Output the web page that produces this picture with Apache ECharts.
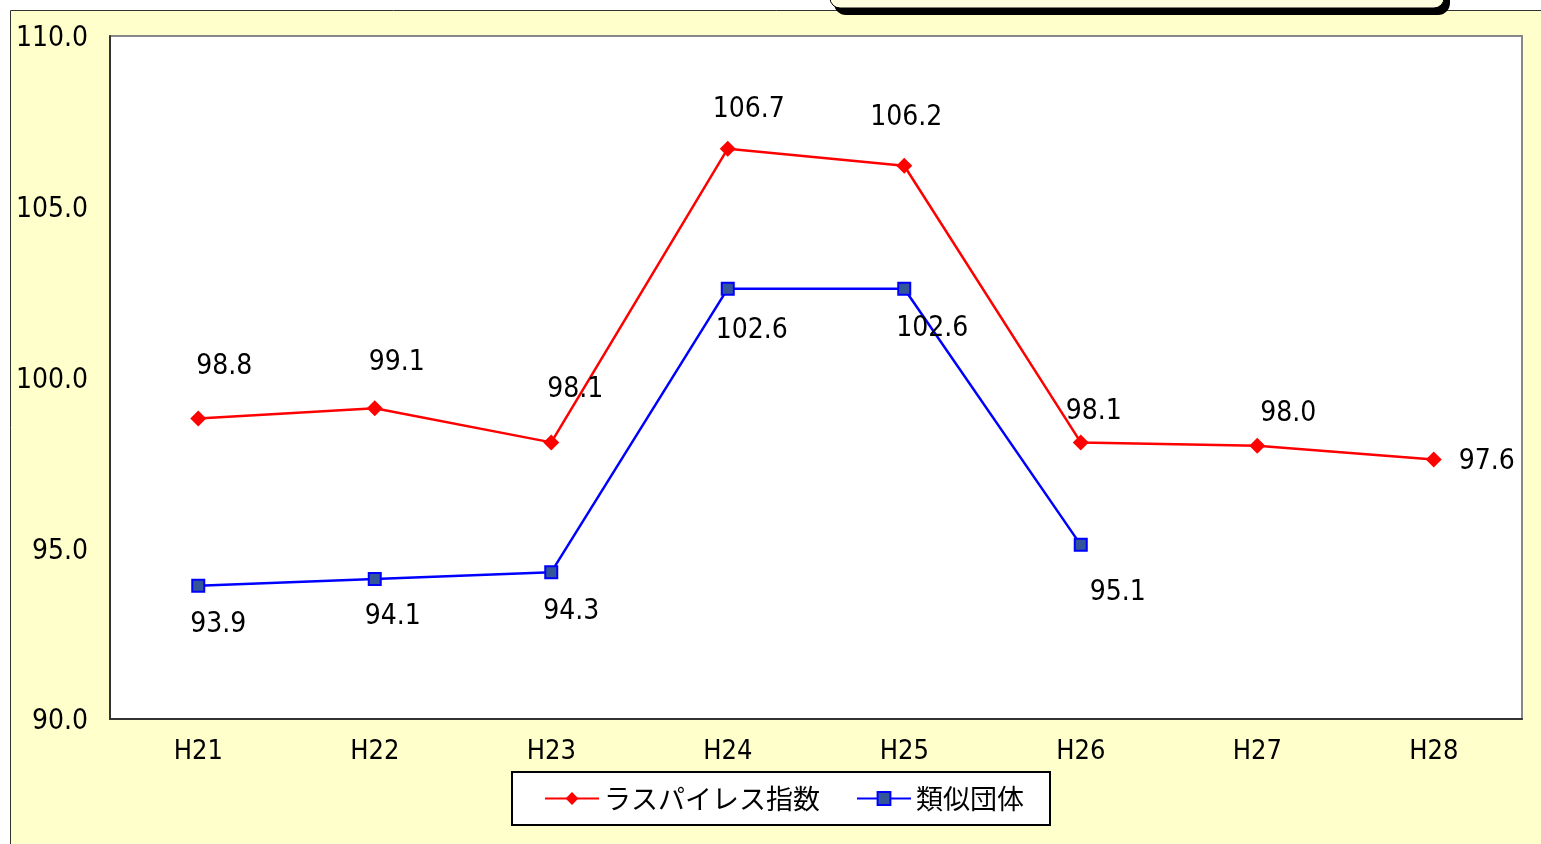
<!DOCTYPE html>
<html><head><meta charset="utf-8">
<script src="https://cdn.jsdelivr.net/npm/echarts@6/dist/echarts.min.js"></script>
<style>html,body{margin:0;padding:0;background:#fff}#c{width:1541px;height:844px}</style>
</head><body><div id="c"></div>
<script>
const categories = ['H21','H22','H23','H24','H25','H26','H27','H28'];
const seriesNames = ['ラスパイレス指数','類似団体'];
const rasValues = [98.8, 99.1, 98.1, 106.7, 106.2, 98.1, 98.0, 97.6];
const ruiValues = [93.9, 94.1, 94.3, 102.6, 102.6, 95.1, null, null];
const yTicks = [90, 95, 100, 105, 110];

const numFont = '"DejaVu Sans Condensed","Noto Sans CJK JP",sans-serif';
const jpFont = '"Noto Sans CJK JP",sans-serif';

// manual label placements (pixel offsets from the point)
const rasOff = [[26,-52],[22,-46],[24,-53],[21,-39],[2,-48],[13,-31],[31,-32],[53,2]];
const ruiOff = [[20,39],[18,38],[20,40],[24,42],[28,40],[37,48],[0,0],[0,0]];

function withLabels(vals, offs){
  return vals.map((v,i)=>({value:v, label:{offset:offs[i]}}));
}

const chart = echarts.init(document.getElementById('c'), null, {renderer:'canvas'});
chart.setOption({
  backgroundColor:'#ffffff',
  animation:false,
  graphic:[
    {type:'rect', z:-10, shape:{x:10.5,y:10.5,width:1540,height:840}, style:{fill:'#FFFFCC', stroke:'#333', lineWidth:1}},
    {type:'rect', z:-9, shape:{x:110,y:36,width:1412,height:683}, style:{fill:'#fff', stroke:'#888', lineWidth:2}},
    {type:'rect', z:-5, shape:{x:834,y:-30,width:616,height:45,r:12}, style:{fill:'#000'}},
    {type:'rect', z:-4, shape:{x:830,y:-30,width:614,height:38,r:10}, style:{fill:'#FFFFE0', stroke:'#000', lineWidth:1}}
  ],
  grid:{left:110, top:36, right:19, bottom:125, containLabel:false},
  legend:{
    data:[{name:seriesNames[0]},{name:seriesNames[1]}],
    left:512, top:772,
    backgroundColor:'#fff', borderColor:'#000', borderWidth:2, borderRadius:0,
    padding:[13,26,13,32], itemGap:36, itemWidth:54, itemHeight:16,
    textStyle:{fontFamily:jpFont, fontSize:27, color:'#000'}
  },
  xAxis:{
    type:'category', data:categories, boundaryGap:true,
    axisLine:{lineStyle:{color:'#333', width:2}},
    axisTick:{show:false},
    axisLabel:{color:'#000', fontFamily:numFont, fontSize:27, margin:19}
  },
  yAxis:{
    type:'value', min:90, max:110, interval:5,
    axisLine:{show:true, lineStyle:{color:'#333', width:2}},
    axisTick:{show:false},
    splitLine:{show:false},
    axisLabel:{color:'#000', fontFamily:numFont, fontSize:28, margin:22,
      formatter:v=>yTicks.includes(v)? '{a|'+v.toFixed(1)+'}':'',
      rich:{a:{fontFamily:numFont, fontSize:28, color:'#000', padding:[6,0,0,0]}}}
  },
  series:[
    {name:seriesNames[0], type:'line', data:withLabels(rasValues, rasOff),
     symbol:'diamond', symbolSize:16,
     lineStyle:{color:'#FF0000', width:2.5}, itemStyle:{color:'#FF0000'},
     label:{show:true, position:'inside', color:'#000', fontFamily:numFont, fontSize:28,
       formatter:p=>p.value==null?'':Number(p.value).toFixed(1)}},
    {name:seriesNames[1], type:'line', data:withLabels(ruiValues, ruiOff),
     symbol:'rect', symbolSize:12, connectNulls:false,
     lineStyle:{color:'#0000FF', width:2.5}, itemStyle:{color:'#33559A', borderColor:'#0000FF', borderWidth:2}},
  ].map(s=>s.label?s:Object.assign(s,{label:{show:true, position:'inside', color:'#000', fontFamily:numFont, fontSize:28,
       formatter:p=>p.value==null?'':Number(p.value).toFixed(1)}}))
});
</script></body></html>
